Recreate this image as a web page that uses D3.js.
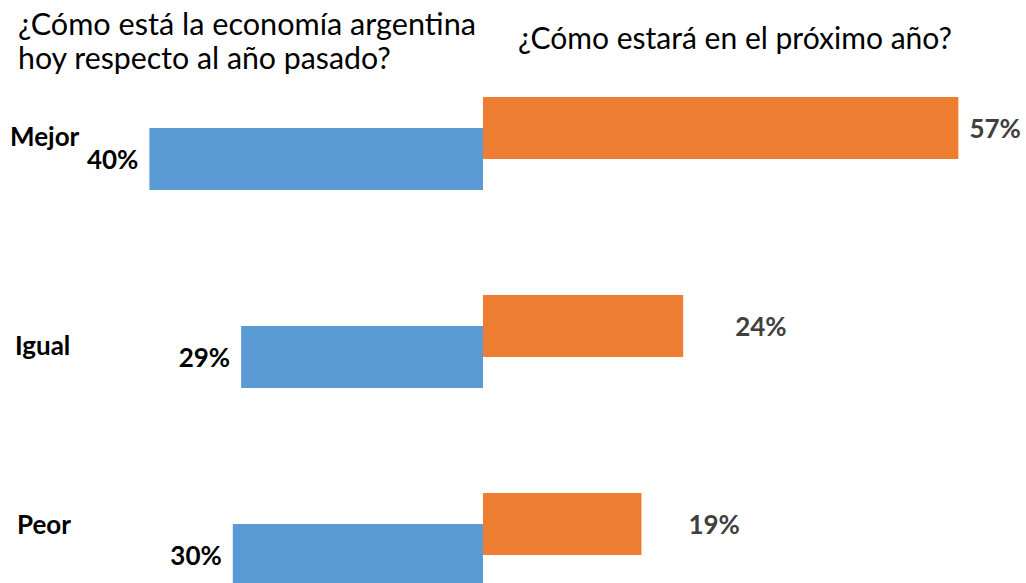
<!DOCTYPE html>
<html><head><meta charset="utf-8">
<script src="https://cdn.jsdelivr.net/npm/d3@7"></script>
<style>
html,body{margin:0;padding:0;background:#fff;}
text{font-family:Lato,"Open Sans",sans-serif;}
</style></head>
<body>
<svg id="c" width="1026" height="583"></svg>
<script>
const categories = ["Mejor", "Igual", "Peor"];
const hoyValues = [40, 29, 30];       // ¿Cómo está hoy respecto al año pasado?
const proximoValues = [57, 24, 19];   // ¿Cómo estará en el próximo año?
const hoyLabels = ["40%", "29%", "30%"];
const proximoLabels = ["57%", "24%", "19%"];
const titleLeft = ["¿Cómo está la economía argentina", "hoy respecto al año pasado?"];
const titleRight = "¿Cómo estará en el próximo año?";

const svg = d3.select("#c");
const x0 = 483;
const x = d3.scaleLinear().domain([-60, 60]).range([x0 - 500.4, x0 + 500.4]);
const y = d3.scaleBand().domain(categories).range([97, 97 + 3 * 198]).padding(0);
const barH = 62;

function fit(sel, target) {
  sel.each(function () {
    const w = this.getComputedTextLength();
    const fs = parseFloat(d3.select(this).attr("font-size"));
    d3.select(this).attr("font-size", (fs * target / w).toFixed(2));
  });
}

// titles
fit(svg.append("text").attr("x", 18).attr("y", 35).attr("font-size", 28).attr("fill", "#000").text(titleLeft[0]), 458);
fit(svg.append("text").attr("x", 18).attr("y", 69).attr("font-size", 28).attr("fill", "#000").text(titleLeft[1]), 373);
fit(svg.append("text").attr("x", 518).attr("y", 49).attr("font-size", 28).attr("fill", "#000").text(titleRight), 434);

// bars
svg.selectAll("rect.hoy").data(categories).join("rect")
  .attr("class", "hoy")
  .attr("x", (d, i) => x(-hoyValues[i]))
  .attr("y", d => y(d) + 31)
  .attr("width", (d, i) => x(0) - x(-hoyValues[i]))
  .attr("height", barH)
  .attr("fill", "#5B9BD5");

svg.selectAll("rect.prox").data(categories).join("rect")
  .attr("class", "prox")
  .attr("x", x(0))
  .attr("y", d => y(d))
  .attr("width", (d, i) => x(proximoValues[i]) - x(0))
  .attr("height", barH)
  .attr("fill", "#ED7D31");

// category labels
const catDy = [49, 60, 41];
const catX = [10, 15, 17];
svg.selectAll("text.cat").data(categories).join("text")
  .attr("class", "cat")
  .attr("x", (d, i) => catX[i])
  .attr("y", (d, i) => y(d) + catDy[i])
  .attr("font-size", 26).attr("font-weight", "bold").attr("fill", "#000")
  .text(d => d);

// blue value labels
svg.selectAll("text.hv").data(categories).join("text")
  .attr("class", "hv")
  .attr("x", (d, i) => x(-hoyValues[i]) - 11)
  .attr("y", d => y(d) + 31 + 41)
  .attr("text-anchor", "end")
  .attr("font-size", 26).attr("font-weight", "bold").attr("fill", "#000")
  .text((d, i) => hoyLabels[i]);

// orange value labels
const pGap = [11, 52, 47];
svg.selectAll("text.pv").data(categories).join("text")
  .attr("class", "pv")
  .attr("x", (d, i) => x(proximoValues[i]) + pGap[i])
  .attr("y", d => y(d) + 41)
  .attr("font-size", 26).attr("font-weight", "bold").attr("fill", "#404040")
  .text((d, i) => proximoLabels[i]);
</script>
</body></html>
